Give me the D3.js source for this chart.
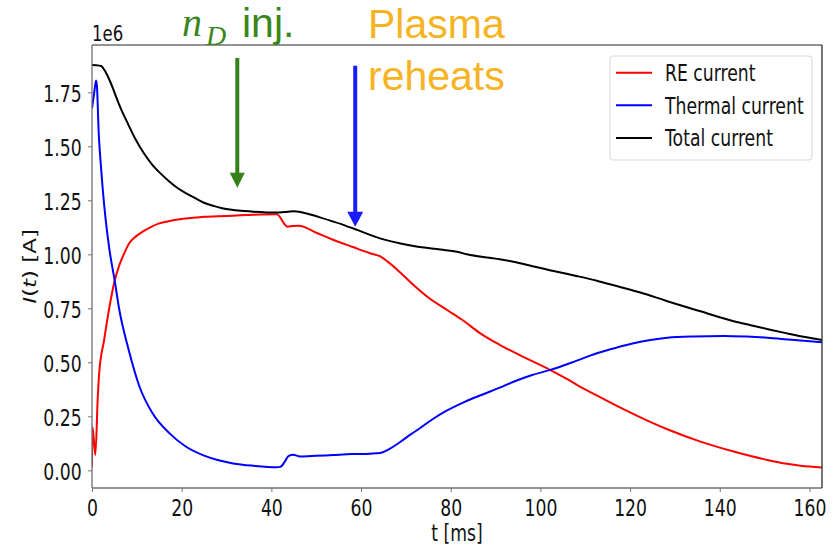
<!DOCTYPE html>
<html>
<head>
<meta charset="utf-8">
<script src="https://cdn.jsdelivr.net/npm/d3@7"></script>
<style>
  html, body { margin: 0; padding: 0; background: #fff; }
  svg { display: block; }
  text { font-family: "DejaVu Sans", sans-serif; }
</style>
</head>
<body>
<svg id="chart" width="838" height="546"></svg>
<script>
// Time axis (ms) and currents (units of 1e6 A)
const reT = [0, 0.12, 0.75, 1.27, 1.6, 2.7, 3.9, 5.0, 6.1, 7.2, 8.3, 9.8, 11.3, 13, 15, 17.3, 19.5, 22, 25, 28, 31.5, 36, 41.2, 43.6, 44.8, 46.1, 50, 53.9, 58, 62, 64.3, 66, 68, 71.7, 75, 79.2, 83, 86.6, 91, 95.5, 102.2, 106, 108.9, 113.4, 116.4, 120.8, 124.6, 128.3, 135.7, 143.1, 146.9, 150.6, 155, 158, 162.8];
const reI = [0.017, 0.2, 0.071, 0.33, 0.449, 0.603, 0.757, 0.873, 0.950, 1.005, 1.051, 1.083, 1.105, 1.125, 1.143, 1.154, 1.162, 1.168, 1.174, 1.176, 1.179, 1.183, 1.185, 1.128, 1.131, 1.132, 1.100, 1.066, 1.035, 1.005, 0.99, 0.965, 0.93, 0.858, 0.80, 0.742, 0.69, 0.634, 0.58, 0.532, 0.464, 0.422, 0.386, 0.338, 0.305, 0.260, 0.223, 0.190, 0.133, 0.087, 0.066, 0.048, 0.03, 0.021, 0.013];

const thT = [0, 0.5, 0.9, 1.1, 1.5, 2.0, 2.4, 3.0, 3.9, 5.1, 6.1, 8.0, 10.6, 13.5, 17.3, 21, 25, 28, 31.5, 36, 41.2, 42, 43, 43.8, 44.9, 46.4, 50, 53.9, 58, 62, 64.3, 66, 68.8, 71, 73.2, 76.2, 79, 83, 87, 91.1, 94, 98, 102.2, 107, 112.6, 117, 120.8, 124.5, 128.3, 134, 140.9, 146, 150.6, 156, 162.8];
const thI = [1.676, 1.75, 1.805, 1.78, 1.56, 1.406, 1.30, 1.17, 1.02, 0.873, 0.742, 0.572, 0.387, 0.264, 0.171, 0.109, 0.068, 0.048, 0.032, 0.021, 0.014, 0.016, 0.04, 0.066, 0.072, 0.064, 0.067, 0.071, 0.075, 0.077, 0.08, 0.095, 0.132, 0.165, 0.196, 0.240, 0.275, 0.316, 0.35, 0.384, 0.41, 0.44, 0.465, 0.499, 0.542, 0.568, 0.588, 0.603, 0.614, 0.62, 0.622, 0.619, 0.614, 0.604, 0.593];

const totT = [0, 1, 2, 3, 3.9, 5, 6.1, 8, 9.8, 11.5, 13.5, 15.5, 17.3, 19, 21, 23, 24.7, 27, 29, 31.5, 34, 36, 39, 41.2, 43, 44.9, 46.5, 48.7, 51, 53.9, 56.5, 59.1, 62, 65, 68.8, 72, 77.7, 81.4, 83.6, 90, 94, 98.5, 103.7, 108, 112.6, 117, 122.3, 128.3, 135.7, 143.1, 146.9, 151, 155, 159, 162.8];
const totI = [1.876, 1.875, 1.872, 1.845, 1.807, 1.75, 1.691, 1.605, 1.529, 1.47, 1.413, 1.37, 1.336, 1.308, 1.282, 1.26, 1.241, 1.225, 1.213, 1.205, 1.2, 1.197, 1.194, 1.193, 1.196, 1.199, 1.196, 1.184, 1.170, 1.151, 1.133, 1.113, 1.09, 1.069, 1.05, 1.037, 1.022, 1.012, 1.0, 0.98, 0.966, 0.944, 0.919, 0.9, 0.878, 0.853, 0.823, 0.783, 0.736, 0.69, 0.672, 0.652, 0.634, 0.617, 0.603];

const seriesNames = ["RE current", "Thermal current", "Total current"];
const seriesColors = ["#ff0000", "#0000ff", "#000000"];

const xTicks = [0, 20, 40, 60, 80, 100, 120, 140, 160];
const yTicks = [0, 0.25, 0.5, 0.75, 1.0, 1.25, 1.5, 1.75];

// Event markers: time (ms), arrow top and tip (units of 1e6 A)
const markerT = [32.4, 58.7];
const markerTop = [1.909, 1.873];
const markerTip = [1.308, 1.128];
const markerColors = ["#35821a", "#1a1aff"];

// ---------- layout ----------
const svg = d3.select("#chart");
const plot = { left: 92, top: 45, right: 822, bottom: 488 };
const SX = 0.75;          // horizontal squeeze of the figure text
const FS = 23;            // figure font size

const x = d3.scaleLinear().domain([0, 162.8]).range([plot.left, plot.right]);
const y = d3.scaleLinear().domain([-0.0819, 1.969]).range([plot.bottom, plot.top]);

svg.append("defs").append("clipPath").attr("id", "plotClip")
  .append("rect")
  .attr("x", plot.left).attr("y", plot.top)
  .attr("width", plot.right - plot.left).attr("height", plot.bottom - plot.top);

// ---------- curves ----------
const series = [
  { t: reT, v: reI },
  { t: thT, v: thI },
  { t: totT, v: totI }
];
const line = d3.line()
  .x(d => x(d[0]))
  .y(d => y(d[1]))
  .curve(d3.curveMonotoneX);

const curves = svg.append("g").attr("clip-path", "url(#plotClip)");
series.forEach((s, i) => {
  const pts = s.t.map((t, k) => [t, s.v[k]]);
  curves.append("path")
    .attr("d", line(pts))
    .attr("fill", "none")
    .attr("stroke", seriesColors[i])
    .attr("stroke-width", 2)
    .attr("stroke-linejoin", "round");
});

// ---------- axes ----------
const xAxis = svg.append("g")
  .attr("transform", `translate(0,${plot.bottom})`)
  .call(d3.axisBottom(x).tickValues(xTicks).tickSize(4).tickFormat(d3.format("d")));
xAxis.select(".domain").remove();
xAxis.selectAll(".tick line").attr("stroke", "#777").attr("stroke-width", 1);
xAxis.selectAll(".tick text")
  .attr("y", 28).attr("dy", 0)
  .attr("transform", `scale(${SX},1)`)
  .attr("fill", "#111")
  .style("font-size", FS + "px");

const yAxis = svg.append("g")
  .attr("transform", `translate(${plot.left},0)`)
  .call(d3.axisLeft(y).tickValues(yTicks).tickSize(4).tickFormat(d3.format(".2f")));
yAxis.select(".domain").remove();
yAxis.selectAll(".tick line").attr("stroke", "#777").attr("stroke-width", 1);
yAxis.selectAll(".tick text")
  .attr("x", -10.3 / SX).attr("dy", 0).attr("y", 9)
  .attr("transform", `scale(${SX},1)`)
  .attr("fill", "#111")
  .style("font-size", FS + "px");

// spines
const spine = svg.append("g").attr("fill", "none");
spine.append("line").attr("x1", plot.left).attr("x2", plot.right).attr("y1", plot.top).attr("y2", plot.top)
  .attr("stroke", "#6e6e6e").attr("stroke-width", 1.3);
spine.append("line").attr("x1", plot.left).attr("x2", plot.right).attr("y1", plot.bottom).attr("y2", plot.bottom)
  .attr("stroke", "#6e6e6e").attr("stroke-width", 1.3);
spine.append("line").attr("x1", plot.left).attr("x2", plot.left).attr("y1", plot.top).attr("y2", plot.bottom)
  .attr("stroke", "#6e6e6e").attr("stroke-width", 1.3);
spine.append("line").attr("x1", plot.right).attr("x2", plot.right).attr("y1", plot.top).attr("y2", plot.bottom)
  .attr("stroke", "#2a2a2a").attr("stroke-width", 1.3);

// axis labels
svg.append("text")
  .attr("transform", `translate(${(plot.left + plot.right) / 2},541) scale(${SX},1)`)
  .attr("text-anchor", "middle")
  .attr("fill", "#111")
  .style("font-size", FS + "px")
  .text("t [ms]");

const yl = svg.append("text")
  .attr("transform", `translate(36,${(plot.top + plot.bottom) / 2}) scale(${SX},1) rotate(-90)`)
  .attr("text-anchor", "middle")
  .attr("fill", "#111")
  .style("font-size", FS + "px");
yl.append("tspan").style("font-style", "italic").text("I");
yl.append("tspan").text("(");
yl.append("tspan").style("font-style", "italic").text("t");
yl.append("tspan").text(") [A]");

// offset (scale) text
svg.append("text")
  .attr("transform", `translate(${plot.left},40.5) scale(${SX},1)`)
  .attr("fill", "#111")
  .style("font-size", "22px")
  .text("1e6");

// ---------- legend ----------
const lg = svg.append("g");
lg.append("rect")
  .attr("x", 610).attr("y", 56).attr("width", 202).attr("height", 104)
  .attr("rx", 3)
  .attr("fill", "#fff").attr("fill-opacity", 0.9)
  .attr("stroke", "#d6d6d6").attr("stroke-width", 1);
seriesNames.forEach((name, i) => {
  const ly = 72.7 + i * 32.6;
  lg.append("line")
    .attr("x1", 616).attr("x2", 652).attr("y1", ly).attr("y2", ly)
    .attr("stroke", seriesColors[i]).attr("stroke-width", 2);
  lg.append("text")
    .attr("transform", `translate(665,${ly + 8.5}) scale(${SX},1)`)
    .attr("fill", "#111")
    .style("font-size", FS + "px")
    .text(name);
});

// ---------- event arrows ----------
const arrows = svg.append("g");
markerT.forEach((t, i) => {
  const ax = x(t), yTop = y(markerTop[i]), yTip = y(markerTip[i]);
  const headLen = 15, halfW = i === 0 ? 7.5 : 8;
  arrows.append("line")
    .attr("x1", ax).attr("x2", ax)
    .attr("y1", yTop).attr("y2", yTip - headLen + 1)
    .attr("stroke", markerColors[i]).attr("stroke-width", 4);
  arrows.append("path")
    .attr("d", `M${ax - halfW},${yTip - headLen}L${ax + halfW},${yTip - headLen}L${ax},${yTip}Z`)
    .attr("fill", markerColors[i]);
});

// ---------- annotations ----------
const ann = svg.append("g");
ann.append("text")
  .attr("x", 182).attr("y", 36)
  .style("font-family", "'Liberation Serif', serif")
  .style("font-style", "italic")
  .style("font-size", "40px")
  .attr("fill", "#38861c")
  .text("n");
ann.append("text")
  .attr("x", 206).attr("y", 45)
  .style("font-family", "'Liberation Serif', serif")
  .style("font-style", "italic")
  .style("font-size", "28px")
  .attr("fill", "#38861c")
  .text("D");
ann.append("text")
  .attr("x", 242).attr("y", 37)
  .style("font-family", "'Liberation Sans', Arial, sans-serif")
  .style("font-size", "41px")
  .attr("fill", "#38861c")
  .text("inj.");
ann.append("text")
  .attr("x", 368).attr("y", 38)
  .style("font-family", "'Liberation Sans', Arial, sans-serif")
  .style("font-size", "41px")
  .attr("fill", "#f6b322")
  .text("Plasma");
ann.append("text")
  .attr("x", 368).attr("y", 90)
  .style("font-family", "'Liberation Sans', Arial, sans-serif")
  .style("font-size", "41px")
  .attr("fill", "#f6b322")
  .text("reheats");
</script>
</body>
</html>
